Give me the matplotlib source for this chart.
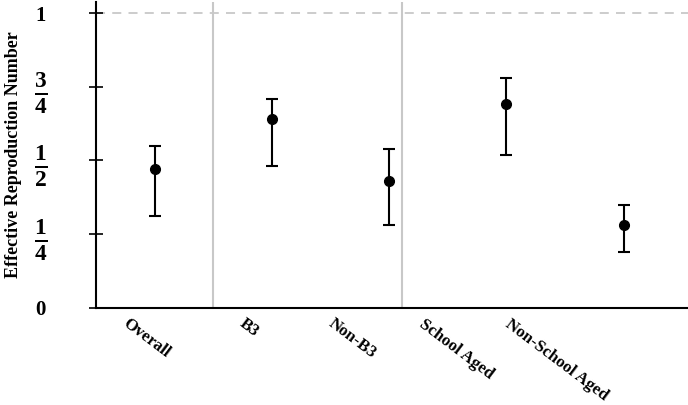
import numpy as np
import matplotlib
matplotlib.use("Agg")
import matplotlib.pyplot as plt
import matplotlib.transforms as mtransforms

plt.rcParams['font.family'] = ['Liberation Serif', 'DejaVu Serif']
plt.rcParams['font.weight'] = 'bold'
plt.rcParams['mathtext.fontset'] = 'custom'
plt.rcParams['mathtext.rm'] = 'Liberation Serif:bold'
plt.rcParams['mathtext.bf'] = 'Liberation Serif:bold'
plt.rcParams['mathtext.it'] = 'Liberation Serif:bold'

# estimates
groups = ['Overall', 'B3', 'Non-B3', 'School Aged', 'Non-School Aged']
r_est = [0.471, 0.641, 0.430, 0.692, 0.281]
ci_low = [0.311, 0.481, 0.281, 0.519, 0.189]
ci_high = [0.549, 0.709, 0.539, 0.781, 0.349]
dividers = [0.5, 2.11]
ytick_vals = [0, 0.25, 0.5, 0.75, 1]
ytick_labels = ['0', r'$\frac{1}{4}$', r'$\frac{1}{2}$', r'$\frac{3}{4}$', '1']

fig = plt.figure(figsize=(6.88, 4.05), dpi=100)
ax = fig.add_axes([96 / 688, 1 - 307.5 / 405, 1 - 96 / 688, 305.5 / 405])

x = np.arange(len(groups))
est = np.array(r_est)
yerr = [est - np.array(ci_low), np.array(ci_high) - est]

for d in dividers:
    ax.axvline(d, color='#c8c8c8', lw=1.5, zorder=1)
ax.axhline(1, color='#c8c8c8', lw=1.3, ls=(0, (5, 4)), zorder=1)

ax.errorbar(x, est, yerr=yerr, fmt='o', color='black', ms=7, elinewidth=1.5,
            capsize=4.3, capthick=1.5, zorder=3)

ax.set_xlim(-0.5, 4.55)
ax.set_ylim(0, 1.039)

ax.spines['top'].set_visible(False)
ax.spines['right'].set_visible(False)
ax.spines['left'].set_linewidth(1.5)
ax.spines['bottom'].set_linewidth(1.5)

ax.set_yticks(ytick_vals)
ax.set_yticklabels(ytick_labels)
ax.tick_params(axis='y', direction='inout', length=10, width=1.2, pad=35)
for lab in ax.get_yticklabels():
    lab.set_horizontalalignment('center')
    lab.set_fontsize(24 if '$' in lab.get_text() else 15)

ax.set_xticks(x)
ax.set_xticklabels(groups, fontsize=12.2, fontweight='bold', rotation=-37,
                   ha='right', va='top')
ax.tick_params(axis='x', length=0, pad=6)
# Overall sits a bit further right than the others in the original
dx_px = [18, -10, -10, -10, -12]
for lab, dx in zip(ax.get_xticklabels(), dx_px):
    shift = mtransforms.ScaledTranslation(dx / 100, 0, fig.dpi_scale_trans)
    lab.set_transform(lab.get_transform() + shift)

ax.set_ylabel('Effective Reproduction Number', fontsize=13, fontweight='bold')
ax.yaxis.set_label_coords(-74 / 592, 0.5)

fig.savefig('out.png', dpi=100)
